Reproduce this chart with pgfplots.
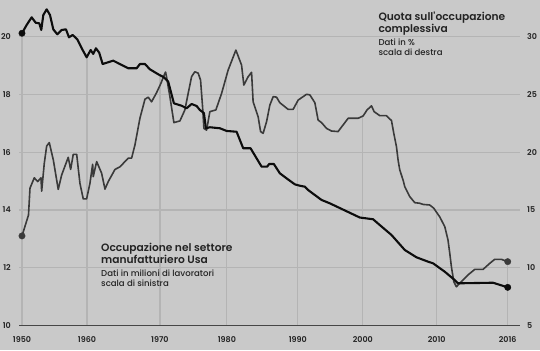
\documentclass[border=0pt]{standalone}
\usepackage{pgfplots}
\pgfplotsset{compat=1.18}
\usepackage{fontspec}
\setmainfont{Poppins}
\newfontfamily\psemi{Poppins SemiBold}
\newfontfamily\pmed{Poppins Medium}
\definecolor{bg}{RGB}{201,201,201}
\definecolor{gridc}{RGB}{180,180,180}
\definecolor{axisc}{RGB}{70,70,70}
\definecolor{grayline}{RGB}{58,58,58}
\definecolor{blackline}{RGB}{12,12,12}
\definecolor{txt}{RGB}{35,35,35}
\newcommand\yrpix[1]{\pgfmathparse{(#1)<1960 ? 22+6.5*((#1)-1950) : ((#1)<1970 ? 87+7.3*((#1)-1960) : ((#1)<1980 ? 160+6.7*((#1)-1970) : ((#1)<1990 ? 227+7.1*((#1)-1980) : ((#1)<2000 ? 298+6.5*((#1)-1990) : ((#1)<2010 ? 363+7.4*((#1)-2000) : 437+11.8333*((#1)-2010))))))}}
\pgfplotstableread{
year val
1950 13.10
1951.0 13.82
1951.23 14.75
1951.89 15.11
1952.42 14.98
1952.92 15.11
1953.03 14.65
1953.43 15.61
1953.80 16.21
1954.20 16.33
1954.82 15.73
1955.58 14.71
1956.11 15.21
1957.12 15.82
1957.49 15.40
1957.89 15.92
1958.42 15.92
1958.92 14.92
1959.43 14.38
1959.95 14.38
1960.41 14.92
1960.78 15.58
1960.86 15.15
1961.33 15.67
1962.01 15.27
1962.47 14.72
1962.92 14.98
1963.84 15.40
1964.52 15.49
1965.66 15.79
1966.12 15.79
1966.58 16.25
1967.26 17.17
1967.95 17.83
1968.40 17.90
1968.86 17.74
1969.55 18.06
1970.15 18.38
1970.75 18.73
1970.85 18.77
1971.00 18.59
1971.49 17.92
1972.09 17.02
1972.99 17.08
1973.73 17.46
1974.22 18.03
1974.73 18.61
1975.22 18.78
1975.72 18.73
1976.07 18.49
1976.37 17.57
1976.57 16.82
1976.97 16.76
1977.46 17.40
1978.36 17.46
1979.21 18.03
1980.18 18.84
1981.27 19.53
1982.07 19.01
1982.39 18.32
1983.00 18.61
1983.48 18.76
1983.70 17.74
1984.41 17.22
1984.75 16.71
1985.11 16.65
1985.59 17.05
1986.06 17.63
1986.53 17.92
1987.00 17.90
1987.46 17.71
1988.63 17.48
1989.34 17.48
1990.05 17.80
1991.34 18.00
1991.85 17.98
1992.62 17.71
1993.12 17.11
1993.65 17.02
1994.42 16.82
1995.18 16.73
1996.20 16.71
1997.74 17.17
1999.28 17.17
2000.04 17.25
2000.58 17.46
2001.18 17.60
2001.53 17.40
2002.30 17.26
2003.20 17.26
2003.88 17.09
2004.19 16.65
2004.55 16.19
2004.77 15.73
2005.00 15.38
2005.45 15.03
2005.68 14.80
2006.35 14.46
2007.03 14.25
2007.70 14.23
2008.15 14.19
2009.05 14.17
2009.59 14.06
2010.25 13.76
2010.68 13.42
2010.95 12.96
2011.10 12.50
2011.24 12.03
2011.44 11.52
2011.66 11.34
2012.08 11.52
2012.64 11.75
2013.21 11.94
2013.91 11.94
2014.48 12.15
2014.90 12.29
2015.46 12.29
2016 12.21
}\manuf
\pgfplotstableread{
year val
1950 30.28
1950.72 31.00
1951.49 31.66
1952.11 31.19
1952.66 31.14
1952.97 30.56
1953.28 31.86
1953.80 32.35
1954.31 31.86
1954.82 30.62
1955.43 30.19
1956.11 30.56
1956.77 30.62
1957.23 29.93
1957.80 30.13
1958.51 29.76
1959.34 28.83
1959.95 28.20
1960.51 28.83
1960.86 28.49
1961.23 28.98
1961.68 28.60
1962.15 27.62
1963.60 27.91
1965.66 27.25
1966.81 27.25
1967.26 27.62
1967.95 27.62
1968.63 27.16
1969.77 26.73
1970.60 26.47
1971.24 26.09
1972.09 24.22
1973.24 24.01
1973.99 23.79
1974.73 24.16
1975.48 23.99
1975.97 23.64
1976.57 23.38
1976.87 22.06
1977.46 22.15
1978.96 22.06
1979.96 21.83
1981.37 21.76
1982.30 20.33
1983.34 20.33
1984.89 18.74
1985.68 18.74
1985.96 18.97
1986.62 18.97
1987.46 18.17
1988.41 17.73
1989.58 17.21
1990.31 17.09
1991.08 17.01
1991.58 16.72
1993.65 15.86
1994.92 15.57
1999.54 14.34
2001.39 14.19
2002.30 13.69
2003.88 12.83
2005.68 11.53
2007.26 10.90
2008.83 10.52
2009.50 10.38
2010.68 9.65
2011.44 9.00
2011.80 8.65
2014.76 8.70
2016 8.30
}\share
\begin{document}
\begin{tikzpicture}[x=1bp,y=1bp]
\fill[bg] (0,0) rectangle (540,350);
\begin{axis}[
  at={(19bp,24.5bp)}, anchor=south west, scale only axis,
  width=501bp, height=325.5bp,
  x coord trafo/.code={\yrpix{#1}},
  xmin=1949.54, xmax=2017.04, ymin=10, ymax=21.263,
  enlargelimits=false,
  axis line style={draw=none},
  major tick length=0pt,
  xtick={1950,1960,1970,1980,1990,2000,2010,2016},
  xticklabels={1950,1960,1970,1980,1990,2000,2010,2016},
  ytick={10,12,14,16,18,20},
  yticklabels={10,12,14,16,18,20},
  ymajorgrids, major grid style={gridc, line width=1.2bp},
  tick label style={font=\psemi\fontsize{8}{9.6}\selectfont, text=txt},
  xticklabel style={anchor=north, inner sep=0pt, yshift=-11bp},
  yticklabel style={anchor=east, inner sep=0pt, xshift=-8bp},
]
\addplot[ycomb, gridc, line width=1.2bp, mark=none] coordinates {(1950,20.12) (1960,19.29) (1970,18.63) (1980,18.75) (1990,17.80) (2000,17.25) (2010,13.93) (2016,12.21)};
\draw[axisc, line width=1.5bp] (rel axis cs:0,0) -- (rel axis cs:1,0);
\addplot[grayline, line width=1.6bp, line join=round, mark=none] table[x=year,y=val] {\manuf};
\addplot[grayline, only marks, mark=*, mark size=3.2bp] coordinates {(1950,13.10) (2016,12.21)};
\end{axis}
\begin{axis}[
  at={(19bp,24.5bp)}, anchor=south west, scale only axis,
  width=501bp, height=325.5bp,
  x coord trafo/.code={\yrpix{#1}},
  xmin=1949.54, xmax=2017.04, ymin=5, ymax=33.157,
  enlargelimits=false,
  axis line style={draw=none},
  major tick length=0pt,
  xtick=\empty,
  ytick={5,10,15,20,25,30},
  yticklabels={5,10,15,20,25,30},
  yticklabel pos=right,
  tick label style={font=\psemi\fontsize{8}{9.6}\selectfont, text=txt},
  yticklabel style={anchor=west, inner sep=0pt, xshift=7bp},
]
\addplot[blackline, line width=2.1bp, line join=round, mark=none] table[x=year,y=val] {\share};
\addplot[blackline, only marks, mark=*, mark size=3.2bp] coordinates {(1950,30.28) (2016,8.30)};
\end{axis}
\node[anchor=base west, inner sep=0pt, text=txt, font=\psemi\fontsize{10.7}{12}\selectfont] at (378.3,329.3) {Quota sull'occupazione};
\node[anchor=base west, inner sep=0pt, text=txt, font=\psemi\fontsize{10.7}{12}\selectfont] at (378.3,317.7) {complessiva};
\node[anchor=base west, inner sep=0pt, text=txt, font=\pmed\fontsize{8.6}{10}\selectfont] at (378.3,304.3) {Dati in \%};
\node[anchor=base west, inner sep=0pt, text=txt, font=\pmed\fontsize{8.6}{10}\selectfont] at (378.3,294.3) {scala di destra};
\node[anchor=base west, inner sep=0pt, text=txt, font=\psemi\fontsize{10.7}{12}\selectfont] at (101,98.3) {Occupazione nel settore};
\node[anchor=base west, inner sep=0pt, text=txt, font=\psemi\fontsize{10.7}{12}\selectfont] at (101,86.7) {manufatturiero Usa};
\node[anchor=base west, inner sep=0pt, text=txt, font=\pmed\fontsize{8.6}{10}\selectfont] at (101,73.3) {Dati in milioni di lavoratori};
\node[anchor=base west, inner sep=0pt, text=txt, font=\pmed\fontsize{8.6}{10}\selectfont] at (101,64) {scala di sinistra};
\pgfresetboundingbox
\path[use as bounding box] (0,0) rectangle (540,350);
\end{tikzpicture}
\end{document}
